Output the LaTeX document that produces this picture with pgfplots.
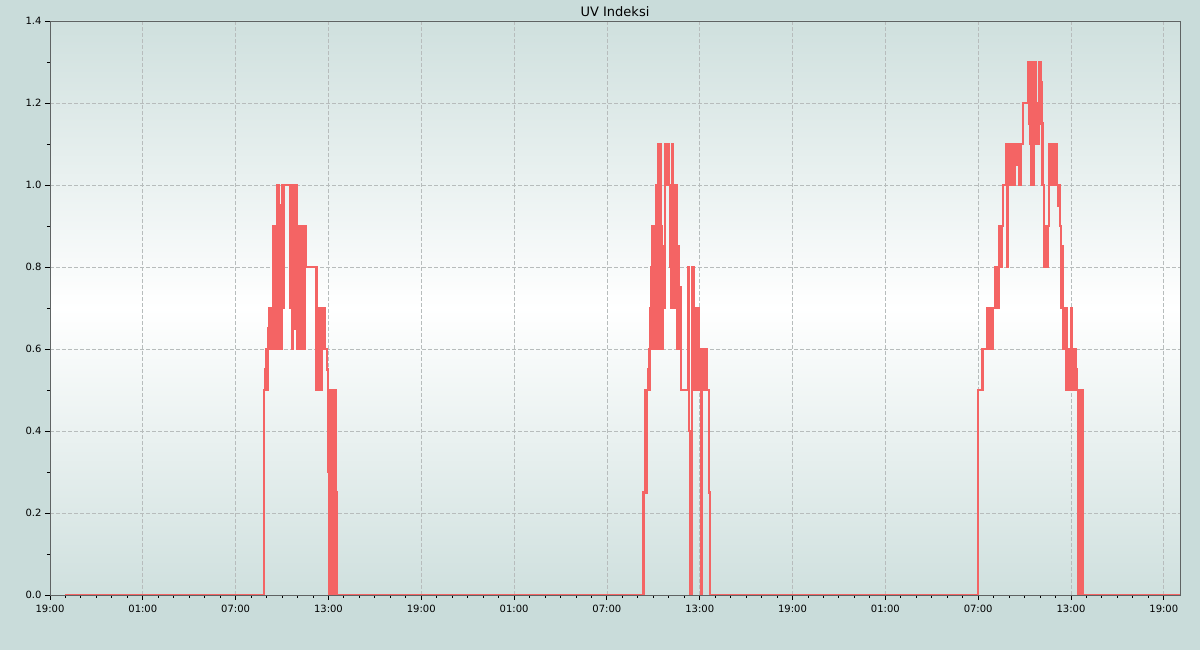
\documentclass[border=0pt]{standalone}
\usepackage{fontspec}
\setmainfont{DejaVu Sans}
\usepackage{pgfplots}
\pgfplotsset{compat=1.18}
\usetikzlibrary{backgrounds}

\definecolor{outerbg}{HTML}{C9DCDA}
\definecolor{edgebg}{HTML}{CFE0DE}
\definecolor{uvline}{HTML}{F46464}
\definecolor{gridc}{HTML}{B7BCBC}
\definecolor{axc}{HTML}{5F6363}

% UV index, hours since the first 19:00
\pgfplotstableread{
h y
0.97 0
13.83 0.5
13.90 0.55
13.96 0.5
14.00 0.6
14.05 0.5
14.09 0.65
14.13 0.6
14.18 0.7
14.22 0.6
14.26 0.7
14.31 0.6
14.35 0.7
14.39 0.9
14.44 0.6
14.48 0.9
14.52 0.7
14.57 0.9
14.61 0.6
14.65 1.0
14.70 0.7
14.74 1.0
14.78 0.6
14.83 0.9
14.87 0.7
14.91 0.95
14.96 0.6
14.99 1.0
15.04 0.9
15.08 0.7
15.12 1.0
15.51 0.7
15.55 1.0
15.60 0.85
15.64 0.95
15.68 0.6
15.73 1.0
15.77 0.85
15.81 0.65
15.86 0.95
15.90 0.7
15.94 1.0
15.99 0.6
16.03 0.85
16.07 0.6
16.12 0.9
16.16 0.6
16.20 0.9
16.25 0.6
16.29 0.9
16.33 0.6
16.38 0.9
16.42 0.6
16.46 0.9
16.51 0.8
17.19 0.5
17.23 0.8
17.28 0.6
17.32 0.7
17.36 0.5
17.41 0.7
17.45 0.6
17.49 0.7
17.54 0.5
17.58 0.7
17.62 0.6
17.67 0.7
17.71 0.6
17.75 0.7
17.80 0.6
17.90 0.55
17.97 0.3
18.01 0.5
18.05 0
18.10 0.5
18.14 0
18.18 0.5
18.23 0
18.27 0.5
18.31 0
18.35 0.5
18.39 0
18.44 0.5
18.48 0.25
18.55 0
38.36 0.25
38.46 0.5
38.54 0.25
38.59 0.5
38.65 0.55
38.70 0.6
38.73 0.5
38.78 0.7
38.82 0.6
38.86 0.8
38.91 0.7
38.95 0.9
38.99 0.6
39.04 0.9
39.08 0.7
39.12 0.9
39.17 1.0
39.21 0.6
39.25 0.9
39.30 0.7
39.34 1.1
39.38 0.6
39.42 1.1
39.47 0.6
39.51 0.9
39.55 0.6
39.60 0.85
39.64 0.7
39.68 0.85
39.73 0.7
39.77 1.1
39.81 1.05
39.86 1.0
39.90 1.1
39.94 1.05
39.99 1.1
40.03 1.0
40.07 0.8
40.12 1.0
40.16 0.7
40.20 1.1
40.25 0.7
40.29 1.0
40.33 0.7
40.38 1.0
40.42 0.8
40.46 1.0
40.51 0.6
40.55 0.85
40.59 0.6
40.64 0.85
40.68 0.6
40.72 0.75
40.78 0.5
41.24 0.8
41.28 0.6
41.32 0.4
41.38 0
41.49 0.8
41.54 0.75
41.58 0.8
41.62 0.5
41.67 0.7
41.71 0.5
41.75 0.7
41.80 0.5
41.84 0.7
41.88 0.5
41.93 0.7
41.97 0.5
42.01 0.6
42.06 0
42.16 0.6
42.21 0.5
42.25 0.6
42.29 0.5
42.33 0.6
42.38 0.5
42.42 0.6
42.46 0.5
42.61 0.25
42.68 0
60.00 0.5
60.28 0.6
60.58 0.7
60.63 0.6
60.67 0.7
60.71 0.6
60.84 0.7
60.89 0.6
60.93 0.7
61.08 0.8
61.12 0.7
61.16 0.8
61.21 0.7
61.25 0.8
61.31 0.7
61.36 0.9
61.40 0.8
61.45 0.9
61.49 0.8
61.53 0.9
61.58 1.0
61.79 1.1
61.87 0.8
61.92 1.0
61.96 1.1
62.16 1.0
62.20 1.1
62.24 1.0
62.29 1.1
62.33 1.0
62.37 1.1
62.48 1.05
62.52 1.1
62.63 1.0
62.67 1.1
62.71 1.0
62.76 1.1
62.91 1.2
63.23 1.3
63.28 1.15
63.32 1.3
63.36 1.1
63.41 1.3
63.45 1.0
63.49 1.3
63.54 1.0
63.58 1.3
63.62 1.15
63.69 1.3
63.73 1.1
63.78 1.2
63.82 1.1
63.86 1.2
63.91 1.1
63.95 1.3
64.04 1.25
64.10 1.15
64.16 1.0
64.25 0.9
64.29 0.8
64.33 0.9
64.38 0.8
64.42 0.9
64.46 0.8
64.51 0.9
64.59 1.1
64.63 1.0
64.68 1.1
64.72 1.0
64.76 1.1
64.81 1.0
64.85 1.1
64.90 1.05
64.94 1.1
64.98 1.0
65.03 1.1
65.07 1.0
65.15 0.95
65.24 1.0
65.28 0.9
65.33 0.85
65.37 0.7
65.41 0.85
65.46 0.6
65.49 0.7
65.54 0.6
65.58 0.7
65.62 0.6
65.67 0.7
65.71 0.5
65.75 0.6
65.80 0.5
65.84 0.6
65.88 0.5
65.93 0.6
65.97 0.5
66.01 0.7
66.06 0.5
66.10 0.6
66.14 0.5
66.25 0.6
66.34 0.55
66.40 0.5
66.47 0
66.51 0.5
66.56 0
66.60 0.5
66.65 0
66.69 0.5
66.75 0
73.05 0
}\uvdata

\begin{document}
\begin{tikzpicture}[x=1pt,y=1pt]
\begin{axis}[
  scale only axis,
  width=1130pt, height=574pt,
  xmin=0, xmax=73.05,
  ymin=0, ymax=1.4,
  axis background/.style={top color=edgebg, bottom color=edgebg, middle color=white},
  axis line style={axc, line width=0.9pt},
  xtick={0,6,...,72},
  xticklabels={19:00,01:00,07:00,13:00,19:00,01:00,07:00,13:00,19:00,01:00,07:00,13:00,19:00},
  minor x tick num=5,
  ytick={0,0.2,...,1.4},
  minor y tick num=1,
  tick pos=left,
  tick align=outside,
  major tick length=5pt,
  minor tick length=3pt,
  every tick/.style={black, line width=0.9pt},
  grid=major,
  major grid style={gridc, dashed, dash pattern=on 4pt off 2pt, line width=0.8pt},
  ticklabel style={font=\fontsize{10}{12}\selectfont},
  xticklabel style={yshift=-1.5pt},
  /pgf/number format/assume math mode=true,
  yticklabel style={/pgf/number format/.cd, fixed, fixed zerofill, precision=1},
  title={UV Indeksi},
  title style={font=\fontsize{13}{15}\selectfont, at={(0.5,1)}, anchor=base, yshift=-2pt},
]
\addplot[uvline, line width=2.2pt, const plot, line join=miter] table[x=h, y=y] {\uvdata};
\end{axis}
\begin{scope}[on background layer]
\fill[outerbg] (-50,-55) rectangle (1150,595);
\end{scope}
\pgfresetboundingbox
\path[use as bounding box] (-50,-55) rectangle (1150,595);
\end{tikzpicture}
\end{document}
